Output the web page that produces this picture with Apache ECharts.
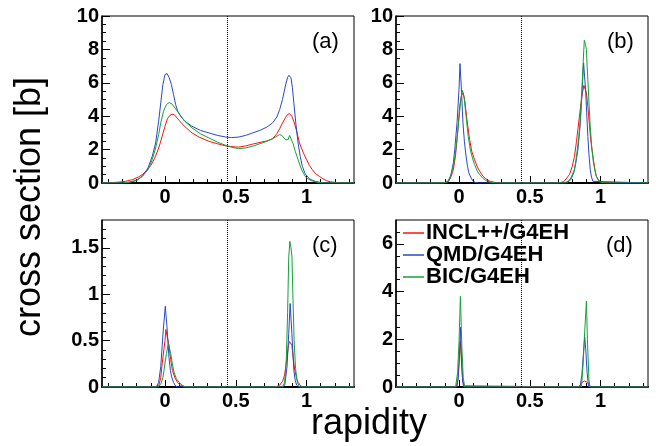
<!DOCTYPE html>
<html><head><meta charset="utf-8">
<script src="https://cdn.jsdelivr.net/npm/echarts@6/dist/echarts.min.js"></script>
<style>html,body{margin:0;padding:0;background:#fff}#c{width:662px;height:446px}</style>
</head><body><div id="c"></div>
<script>
// ---- data ----
const seriesNames = ['INCL++/G4EH', 'QMD/G4EH', 'BIC/G4EH'];
const panelLabels = ['(a)', '(b)', '(c)', '(d)'];
const xTickValues = [0, 0.5, 1];
const xMinorValues = [-0.4,-0.3,-0.2,-0.1,0.1,0.2,0.3,0.4,0.6,0.7,0.8,0.9,1.1,1.2,1.3];
const yTicksAB = [0, 2, 4, 6, 8, 10];
const yMinorAB = [0.5,1,1.5,2.5,3,3.5,4.5,5,5.5,6.5,7,7.5,8.5,9,9.5];
const yTicksC = [0, 0.5, 1, 1.5];
const yMinorC = [0.1,0.2,0.3,0.4,0.6,0.7,0.8,0.9,1.1,1.2,1.3,1.4,1.6,1.7];
const yTicksD = [0, 2, 4, 6];
const yMinorD = [0.5,1,1.5,2.5,3,3.5,4.5,5,5.5,6.5];
const midRapidity = 0.443;

const aINCL = [[-0.445,0],[-0.38,0.02],[-0.33,0.05],[-0.28,0.1],[-0.23,0.2],[-0.19,0.35],[-0.16,0.5],[-0.13,0.75],[-0.10,1.05],[-0.075,1.45],[-0.055,1.85],[-0.035,2.35],[-0.02,2.8],[0.0,3.4],[0.017,3.85],[0.035,4.05],[0.05,4.12],[0.065,4.1],[0.08,3.95],[0.10,3.75],[0.12,3.55],[0.15,3.3],[0.19,3.0],[0.24,2.75],[0.31,2.5],[0.37,2.35],[0.43,2.22],[0.48,2.17],[0.52,2.15],[0.57,2.22],[0.62,2.33],[0.68,2.45],[0.72,2.52],[0.76,2.65],[0.79,2.95],[0.81,3.25],[0.83,3.6],[0.85,3.9],[0.865,4.1],[0.88,4.15],[0.895,4.0],[0.91,3.7],[0.93,3.1],[0.95,2.4],[0.975,1.85],[1.0,1.4],[1.02,1.05],[1.04,0.8],[1.065,0.55],[1.09,0.4],[1.115,0.25],[1.14,0.14],[1.17,0.07],[1.2,0.04],[1.24,0.01],[1.335,0]];
const aQMD = [[-0.445,0],[-0.30,0],[-0.25,0.05],[-0.20,0.15],[-0.16,0.4],[-0.12,0.9],[-0.09,1.6],[-0.066,2.4],[-0.045,3.7],[-0.03,4.8],[-0.015,5.9],[0.0,6.5],[0.015,6.55],[0.03,6.3],[0.045,5.9],[0.06,5.3],[0.075,4.7],[0.09,4.3],[0.11,4.0],[0.14,3.7],[0.19,3.4],[0.25,3.15],[0.31,3.0],[0.37,2.85],[0.43,2.75],[0.47,2.72],[0.52,2.75],[0.57,2.85],[0.62,3.0],[0.67,3.15],[0.72,3.35],[0.76,3.6],[0.79,3.95],[0.81,4.4],[0.83,5.0],[0.85,5.8],[0.865,6.3],[0.875,6.45],[0.89,6.3],[0.90,5.7],[0.91,4.8],[0.925,3.5],[0.94,2.4],[0.955,1.6],[0.97,1.0],[0.99,0.55],[1.02,0.25],[1.06,0.1],[1.10,0.03],[1.15,0],[1.335,0]];
const aBIC = [[-0.445,0],[-0.30,0],[-0.25,0.05],[-0.20,0.18],[-0.16,0.4],[-0.12,0.8],[-0.09,1.4],[-0.066,2.1],[-0.045,2.9],[-0.03,3.6],[-0.01,4.3],[0.01,4.7],[0.03,4.82],[0.05,4.72],[0.07,4.5],[0.10,4.15],[0.14,3.7],[0.19,3.3],[0.25,2.95],[0.31,2.7],[0.37,2.45],[0.43,2.25],[0.48,2.12],[0.52,2.06],[0.57,2.1],[0.62,2.2],[0.67,2.35],[0.72,2.5],[0.76,2.65],[0.79,2.8],[0.81,2.9],[0.825,2.85],[0.84,2.7],[0.855,2.58],[0.87,2.6],[0.88,2.85],[0.89,2.75],[0.905,2.35],[0.92,1.9],[0.94,1.4],[0.96,0.9],[0.98,0.55],[1.0,0.3],[1.03,0.15],[1.07,0.05],[1.12,0],[1.335,0]];

const bINCL = [[-0.445,0],[-0.12,0],[-0.08,0.05],[-0.06,0.3],[-0.04,0.8],[-0.025,1.6],[-0.014,2.6],[-0.004,3.6],[0.005,4.6],[0.016,5.2],[0.028,5.4],[0.04,5.0],[0.056,3.8],[0.075,2.6],[0.09,1.9],[0.11,1.4],[0.13,0.95],[0.146,0.7],[0.17,0.4],[0.19,0.25],[0.22,0.1],[0.26,0.03],[0.30,0],[0.70,0],[0.74,0.08],[0.78,0.5],[0.80,1.0],[0.816,1.6],[0.83,2.5],[0.845,3.6],[0.858,4.5],[0.868,5.2],[0.882,5.85],[0.9,5.4],[0.91,4.6],[0.92,3.6],[0.93,2.6],[0.946,1.6],[0.96,0.8],[0.97,0.4],[0.99,0.12],[1.02,0.02],[1.05,0],[1.335,0]];
const bQMD = [[-0.445,0],[-0.10,0],[-0.07,0.15],[-0.054,0.6],[-0.04,1.2],[-0.03,2.0],[-0.014,3.6],[0.0,5.6],[0.007,7.15],[0.016,5.8],[0.028,3.6],[0.038,2.5],[0.047,1.8],[0.06,1.0],[0.07,0.6],[0.085,0.3],[0.1,0.1],[0.12,0.02],[0.14,0],[0.76,0],[0.79,0.2],[0.81,0.6],[0.825,1.2],[0.84,2.0],[0.855,3.4],[0.864,4.6],[0.872,5.9],[0.88,7.2],[0.887,6.4],[0.894,5.6],[0.902,4.2],[0.91,2.8],[0.918,1.7],[0.927,0.8],[0.936,0.35],[0.946,0.1],[0.96,0],[1.335,0]];
const bBIC = [[-0.445,0],[-0.11,0],[-0.08,0.1],[-0.06,0.4],[-0.04,1.0],[-0.025,1.8],[-0.012,2.8],[0.0,3.9],[0.012,4.9],[0.024,5.55],[0.035,5.2],[0.05,4.0],[0.065,2.8],[0.08,2.0],[0.095,1.5],[0.11,1.1],[0.13,0.7],[0.146,0.5],[0.17,0.28],[0.19,0.15],[0.22,0.05],[0.26,0],[0.74,0],[0.77,0.1],[0.79,0.3],[0.816,0.8],[0.83,1.6],[0.847,2.8],[0.858,4.0],[0.868,5.6],[0.877,7.2],[0.885,8.55],[0.893,8.3],[0.9,8.0],[0.905,7.0],[0.91,6.2],[0.918,4.8],[0.927,3.4],[0.938,2.1],[0.95,1.2],[0.965,0.55],[0.98,0.2],[1.0,0.05],[1.03,0],[1.335,0]];

const cINCL = [[-0.445,0],[-0.07,0],[-0.043,0.02],[-0.03,0.1],[-0.02,0.25],[-0.008,0.4],[0.0,0.5],[0.006,0.62],[0.02,0.62],[0.028,0.45],[0.04,0.3],[0.052,0.18],[0.07,0.1],[0.088,0.05],[0.11,0.02],[0.135,0],[0.78,0],[0.81,0.02],[0.83,0.06],[0.845,0.13],[0.862,0.32],[0.872,0.45],[0.88,0.49],[0.888,0.47],[0.896,0.45],[0.905,0.32],[0.917,0.18],[0.93,0.09],[0.94,0.05],[0.955,0.02],[0.97,0],[1.335,0]];
const cQMD = [[-0.445,0],[-0.06,0],[-0.045,0.05],[-0.03,0.22],[-0.014,0.58],[0.002,0.87],[0.014,0.65],[0.028,0.32],[0.038,0.18],[0.047,0.11],[0.06,0.05],[0.075,0.01],[0.09,0],[0.83,0],[0.846,0.02],[0.862,0.22],[0.874,0.58],[0.884,0.9],[0.896,0.58],[0.91,0.18],[0.92,0.07],[0.93,0.02],[0.945,0],[1.335,0]];
const cBIC = [[-0.445,0],[-0.05,0],[-0.03,0.03],[-0.015,0.1],[-0.007,0.18],[0.01,0.36],[0.024,0.47],[0.03,0.46],[0.04,0.36],[0.052,0.25],[0.064,0.16],[0.08,0.09],[0.1,0.05],[0.12,0.02],[0.147,0],[0.83,0],[0.845,0.05],[0.857,0.3],[0.866,0.8],[0.874,1.4],[0.882,1.57],[0.89,1.5],[0.897,1.4],[0.903,1.0],[0.912,0.5],[0.922,0.2],[0.935,0.05],[0.95,0],[1.335,0]];

const dINCL = [[-0.445,0],[-0.02,0],[-0.008,0.3],[0.0,1.0],[0.01,1.93],[0.018,1.0],[0.026,0.3],[0.035,0.05],[0.045,0],[0.84,0],[0.855,0.08],[0.87,0.2],[0.887,0.25],[0.905,0.2],[0.92,0.08],[0.935,0],[1.335,0]];
const dQMD = [[-0.445,0],[-0.015,0],[-0.005,0.4],[0.003,1.3],[0.01,2.5],[0.017,1.3],[0.025,0.3],[0.032,0],[0.855,0],[0.868,0.5],[0.88,1.5],[0.888,2.1],[0.895,1.6],[0.905,0.6],[0.915,0],[1.335,0]];
const dBIC = [[-0.445,0],[-0.024,0],[-0.01,0.6],[0.0,1.9],[0.01,3.8],[0.02,1.7],[0.03,0.4],[0.04,0],[0.865,0],[0.877,1.0],[0.885,2.0],[0.9,3.6],[0.908,1.8],[0.918,0.3],[0.925,0],[1.335,0]];

// ---- layout / style ----
const FONT = '"Liberation Sans", Arial, Helvetica, sans-serif';
const COLORS = ['#ff1010', '#2a48c4', '#14a03c'];
const grids = [
  {left: 102, top: 16, width: 252, height: 167},
  {left: 396, top: 16, width: 252, height: 167},
  {left: 102, top: 220, width: 252, height: 167},
  {left: 396, top: 220, width: 252, height: 167}
];
const panels = [
  {data: [aINCL, aQMD, aBIC], yMax: 10, yTicks: yTicksAB, yMinor: yMinorAB},
  {data: [bINCL, bQMD, bBIC], yMax: 10, yTicks: yTicksAB, yMinor: yMinorAB},
  {data: [cINCL, cQMD, cBIC], yMax: 1.8, yTicks: yTicksC, yMinor: yMinorC},
  {data: [dINCL, dQMD, dBIC], yMax: 7, yTicks: yTicksD, yMinor: yMinorD}
];
const xMin = -0.445, xMax = 1.335;
const labelStyle = {color: '#000', fontFamily: FONT, fontWeight: 'bold', fontSize: 20};

const xAxis = [], yAxis = [], series = [], graphic = [];
panels.forEach((p, i) => {
  xAxis.push({
    type: 'value', gridIndex: i, min: xMin, max: xMax, position: 'bottom',
    axisLine: {show: true, onZero: false, lineStyle: {color: '#000', width: 2}},
    axisTick: {show: true, inside: true, length: 7, customValues: xTickValues, lineStyle: {color: '#000', width: 1}},
    axisLabel: Object.assign({show: true, margin: 4, customValues: xTickValues}, labelStyle),
    splitLine: {show: false}
  });
  xAxis.push({
    type: 'value', gridIndex: i, min: xMin, max: xMax, position: 'bottom',
    axisLine: {show: false, onZero: false},
    axisTick: {show: true, inside: true, length: 4, customValues: xMinorValues, lineStyle: {color: '#000', width: 1}},
    axisLabel: {show: false}, splitLine: {show: false}
  });
  yAxis.push({
    type: 'value', gridIndex: i, min: 0, max: p.yMax, position: 'left',
    axisLine: {show: true, onZero: false, lineStyle: {color: '#000', width: 1.5}},
    axisTick: {show: true, inside: true, length: 8, customValues: p.yTicks, lineStyle: {color: '#000', width: 1}},
    axisLabel: Object.assign({show: true, margin: 3, customValues: p.yTicks}, labelStyle),
    splitLine: {show: false}
  });
  yAxis.push({
    type: 'value', gridIndex: i, min: 0, max: p.yMax, position: 'left',
    axisLine: {show: false, onZero: false},
    axisTick: {show: true, inside: true, length: 4, customValues: p.yMinor, lineStyle: {color: '#000', width: 1}},
    axisLabel: {show: false}, splitLine: {show: false}
  });
  p.data.forEach((d, k) => {
    const s = {
      name: seriesNames[k], type: 'line', xAxisIndex: 2 * i, yAxisIndex: 2 * i,
      data: d, symbol: 'none', smooth: false, animation: false,
      lineStyle: {color: COLORS[k], width: 1}, itemStyle: {color: COLORS[k]}
    };
    if (k === 0) {
      s.markLine = {
        silent: true, symbol: ['none', 'none'], animation: false,
        label: {show: false},
        lineStyle: {type: 'dotted', color: '#000', width: 1},
        data: [{xAxis: midRapidity}]
      };
    }
    series.push(s);
  });
});

const labelPos = [[312, 31], [607, 31], [312, 235], [606, 235]];
panelLabels.forEach((t, i) => {
  graphic.push({type: 'text', x: labelPos[i][0], y: labelPos[i][1],
    style: {text: t, font: '22px ' + FONT, fill: '#000', align: 'left', verticalAlign: 'top'}});
});
graphic.push({type: 'text', x: 30, y: 207, rotation: Math.PI / 2,
  style: {text: 'cross section [b]', font: '36px ' + FONT, fill: '#000', align: 'center', verticalAlign: 'middle'}});
graphic.push({type: 'text', x: 369, y: 424,
  style: {text: 'rapidity', font: '36px ' + FONT, fill: '#000', align: 'center', verticalAlign: 'middle'}});

const chart = echarts.init(document.getElementById('c'));
chart.setOption({
  animation: false,
  backgroundColor: '#fff',
  grid: grids.map(g => Object.assign({show: true, borderColor: '#000', borderWidth: 1, backgroundColor: 'transparent', containLabel: false}, g)),
  xAxis, yAxis, series, graphic,
  legend: {
    data: seriesNames, orient: 'vertical', left: 398, top: 217,
    icon: 'rect', itemWidth: 21, itemHeight: 1.5, itemGap: 0, selectedMode: false,
    textStyle: {fontFamily: FONT, fontWeight: 'bold', fontSize: 22, color: '#000', lineHeight: 22, padding: [0, 0, 0, -3]}
  }
});
</script></body></html>
